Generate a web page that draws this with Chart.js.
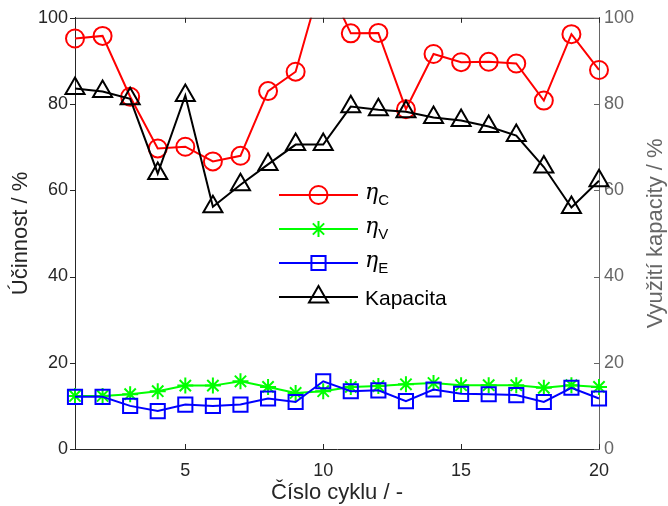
<!DOCTYPE html>
<html>
<head>
<meta charset="utf-8">
<script src="https://cdn.jsdelivr.net/npm/chart.js@4/dist/chart.umd.min.js"></script>
<style>
  html, body { margin:0; padding:0; background:#fff; }
  #wrap { width:668px; height:506px; }
</style>
</head>
<body>
<div id="wrap"><canvas id="c" width="668" height="506"></canvas></div>
<script>
const cycles = [1,2,3,4,5,6,7,8,9,10,11,12,13,14,15,16,17,18,19,20];
const etaC = [95.2,95.8,81.7,69.7,70.1,66.7,68.0,83.0,87.5,110,96.4,96.5,78.8,91.6,89.7,89.8,89.4,80.8,96.2,87.9];
const etaV = [12.3,12.3,12.7,13.4,14.7,14.7,15.7,14.4,13.0,13.4,14.4,14.6,15.0,15.3,14.8,14.8,14.8,14.2,14.8,14.4];
const etaE = [12.1,12.1,10.0,8.8,10.3,10.0,10.3,11.7,10.9,15.7,13.4,13.6,11.1,13.8,12.8,12.7,12.5,10.9,14.2,11.7];
const kapacita = [83.6,82.9,81.2,63.9,82.0,56.2,61.3,66.0,70.6,70.6,79.4,78.7,78.2,76.9,76.2,74.8,72.7,65.4,56.0,62.2];
const xTicks = [5,10,15,20];
const legendNames = [['η','C'],['η','V'],['η','E'],['Kapacita','']];

const RIGHT_GRAY = '#666666';
const FONT = '"Liberation Sans", Arial, sans-serif';

function toXY(vals){ return cycles.map((c,i)=>({x:c, y:vals[i]})); }

const clipBox = {left:15, right:15, top:0, bottom:15};

const datasets = [
  { label:'etaC', data:toXY(etaC), yAxisID:'y', borderColor:'#ff0000', pointBorderColor:'#ff0000',
    pointStyle:'circle', pointRadius:9, pointBorderWidth:2, order:3 },
  { label:'etaV', data:toXY(etaV), yAxisID:'y', borderColor:'#00ff00', pointBorderColor:'#00ff00',
    pointStyle:'star', pointRadius:8, pointBorderWidth:2, order:2 },
  { label:'etaE', data:toXY(etaE), yAxisID:'y', borderColor:'#0000ff', pointBorderColor:'#0000ff',
    pointStyle:'rect', pointRadius:10, pointBorderWidth:2, order:1 },
  { label:'Kapacita', data:toXY(kapacita), yAxisID:'y2', borderColor:'#000000', pointBorderColor:'#000000',
    pointStyle:'triangle', pointRadius:11, pointBorderWidth:2, order:0 }
].map(d => Object.assign({
  borderWidth:2, backgroundColor:'transparent', pointBackgroundColor:'transparent',
  tension:0, clip:clipBox, pointHoverRadius:d.pointRadius
}, d));

function marker(ctx, style, x, y, r){
  ctx.beginPath();
  if(style==='circle'){ ctx.arc(x,y,r,0,Math.PI*2); }
  else if(style==='rect'){ const s=r*Math.SQRT1_2; ctx.rect(x-s,y-s,2*s,2*s); }
  else if(style==='triangle'){
    for(let k=0;k<3;k++){
      const a = k*2*Math.PI/3;
      const px = x + Math.sin(a)*r, py = y - Math.cos(a)*r;
      if(k===0) ctx.moveTo(px,py); else ctx.lineTo(px,py);
    }
    ctx.closePath();
  } else if(style==='star'){
    for(let k=0;k<4;k++){
      const a = k*Math.PI/4;
      ctx.moveTo(x+Math.cos(a)*r, y+Math.sin(a)*r);
      ctx.lineTo(x-Math.cos(a)*r, y-Math.sin(a)*r);
    }
  }
  ctx.stroke();
}

// frame, inward ticks, axis titles and the legend inside the plot
const decor = {
  id:'decor',
  afterDraw(chart){
    const ctx = chart.ctx, a = chart.chartArea;
    const xs = chart.scales.x, yl = chart.scales.y, yr = chart.scales.y2;
    ctx.save();
    ctx.lineWidth = 1;
    // top frame
    ctx.strokeStyle = '#262626';
    ctx.beginPath(); ctx.moveTo(a.left, a.top+0.5); ctx.lineTo(a.right, a.top+0.5); ctx.stroke();
    // x ticks, inward at bottom and top
    ctx.beginPath();
    for(const v of xTicks){
      const px = Math.round(xs.getPixelForValue(v))+0.5;
      ctx.moveTo(px, a.bottom); ctx.lineTo(px, a.bottom-5);
      ctx.moveTo(px, a.top); ctx.lineTo(px, a.top+5);
    }
    // left ticks (outside)
    for(const t of yl.ticks){
      const py = Math.round(yl.getPixelForValue(t.value))+0.5;
      ctx.moveTo(a.left-5, py); ctx.lineTo(a.left, py);
    }
    ctx.stroke();
    // right ticks, inward
    ctx.strokeStyle = RIGHT_GRAY;
    ctx.beginPath();
    for(const t of yr.ticks){
      const py = Math.round(yr.getPixelForValue(t.value))+0.5;
      ctx.moveTo(a.right, py); ctx.lineTo(a.right-5, py);
    }
    ctx.stroke();

    // axis titles
    ctx.font = '22px ' + FONT;
    ctx.textAlign = 'center'; ctx.textBaseline = 'middle';
    ctx.fillStyle = '#262626';
    ctx.fillText('Číslo cyklu / -', (a.left+a.right)/2, 493);
    ctx.save(); ctx.translate(21, (a.top+a.bottom)/2); ctx.rotate(-Math.PI/2);
    ctx.fillText('Účinnost / %', 0, 0); ctx.restore();
    ctx.fillStyle = RIGHT_GRAY;
    ctx.save(); ctx.translate(656, (a.top+a.bottom)/2); ctx.rotate(-Math.PI/2);
    ctx.fillText('Využití kapacity / %', 0, 0); ctx.restore();

    // legend
    const lx0 = 279, lx1 = 358, tx = 365;
    chart.data.datasets.forEach((d,i)=>{
      const y = 195 + i*34;
      ctx.strokeStyle = d.borderColor; ctx.lineWidth = 2;
      ctx.beginPath(); ctx.moveTo(lx0,y); ctx.lineTo(lx1,y); ctx.stroke();
      marker(ctx, d.pointStyle, (lx0+lx1)/2, y, d.pointRadius);
      const [main, sub] = legendNames[i];
      ctx.fillStyle = '#000'; ctx.textAlign = 'left'; ctx.textBaseline = 'alphabetic';
      if(sub){
        ctx.font = 'italic 22px "DejaVu Serif", serif';
        ctx.fillText(main, tx, y+4);
        const w = ctx.measureText(main).width;
        ctx.font = '15px ' + FONT;
        ctx.fillText(sub, tx+w, y+10);
      } else {
        ctx.font = '21px ' + FONT;
        ctx.fillText(main, tx, y+8);
      }
    });
    ctx.restore();
  }
};

new Chart(document.getElementById('c'), {
  type:'line',
  data:{ datasets },
  options:{
    responsive:false,
    animation:false,
    devicePixelRatio:1,
    layout:{ padding:{ top:16, left:0, right:0, bottom:0 } },
    plugins:{ legend:{ display:false }, tooltip:{ enabled:false } },
    scales:{
      x:{
        type:'linear', min:1, max:20,
        afterBuildTicks(s){ s.ticks = xTicks.map(v=>({value:v})); },
        afterFit(s){ s.height = 57; },
        grid:{ drawOnChartArea:false, drawTicks:false },
        border:{ color:'#262626', width:1 },
        ticks:{ color:'#262626', font:{ family:FONT, size:18 }, padding:11, maxRotation:0 }
      },
      y:{
        position:'left', min:0, max:100,
        afterFit(s){ s.width = 75; },
        grid:{ drawOnChartArea:false, drawTicks:false },
        border:{ color:'#262626', width:1 },
        ticks:{ stepSize:20, color:'#262626', font:{ family:FONT, size:18 }, padding:7 }
      },
      y2:{
        position:'right', min:0, max:100,
        afterFit(s){ s.width = 69; },
        grid:{ drawOnChartArea:false, drawTicks:false },
        border:{ color:RIGHT_GRAY, width:1 },
        ticks:{ stepSize:20, color:RIGHT_GRAY, font:{ family:FONT, size:18 }, padding:5 }
      }
    }
  },
  plugins:[decor]
});
</script>
</body>
</html>
